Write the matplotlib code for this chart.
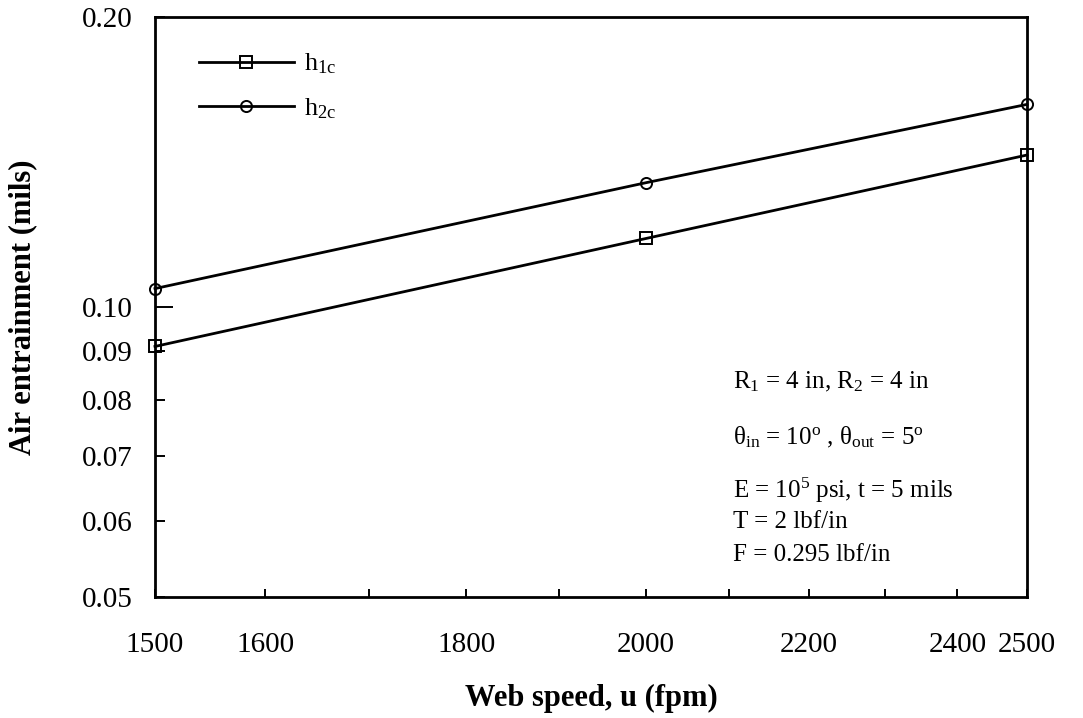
import matplotlib
matplotlib.use("Agg")
import matplotlib.pyplot as plt
from matplotlib.ticker import FixedLocator, FixedFormatter, NullLocator

# Web speed (fpm) and air entrainment heights (mils)
web_speed = [1500, 2000, 2500]
h1c = [0.0910, 0.1178, 0.1438]
h2c = [0.1045, 0.1346, 0.1623]

x_ticks = [1500, 1600, 1700, 1800, 1900, 2000, 2100, 2200, 2300, 2400, 2500]
x_tick_labels = ["1500", "1600", "", "1800", "", "2000", "", "2200", "", "2400", "2500"]
y_ticks = [0.05, 0.06, 0.07, 0.08, 0.09, 0.10, 0.20]
y_tick_labels = ["0.05", "0.06", "0.07", "0.08", "0.09", "0.10", "0.20"]

series_labels = [r"h$_{\rm 1c}$", r"h$_{\rm 2c}$"]
note_lines = [
    r"R$_1$ = 4 in, R$_2$ = 4 in",
    r"θ$_{\rm in}$ = 10$^{\rm o}$ , θ$_{\rm out}$ = 5$^{\rm o}$",
    r"E = 10$^5$ psi, t = 5 mils",
    "T = 2 lbf/in",
    "F = 0.295 lbf/in",
]

plt.rcParams["font.family"] = ["Liberation Serif", "DejaVu Serif"]
plt.rcParams["mathtext.fontset"] = "custom"
plt.rcParams["mathtext.rm"] = "Liberation Serif"
plt.rcParams["mathtext.it"] = "Liberation Serif:italic"
plt.rcParams["mathtext.bf"] = "Liberation Serif:bold"

fig = plt.figure(figsize=(10.83, 7.18), dpi=100)
ax = fig.add_axes([155 / 1083, 1 - 597 / 718, 872 / 1083, 580 / 718])

ax.plot(web_speed, h1c, color="black", lw=2.0, marker="s", ms=8,
        mfc="none", mec="black", mew=1.4, clip_on=False, label=series_labels[0])
ax.plot(web_speed, h2c, color="black", lw=2.0, marker="o", ms=8,
        mfc="none", mec="black", mew=1.4, clip_on=False, label=series_labels[1])

ax.set_xscale("log")
ax.set_yscale("log")
ax.set_xlim(1500, 2500)
ax.set_ylim(0.05, 0.20)

ax.xaxis.set_major_locator(FixedLocator(x_ticks))
ax.xaxis.set_major_formatter(FixedFormatter(x_tick_labels))
ax.xaxis.set_minor_locator(NullLocator())
ax.yaxis.set_major_locator(FixedLocator(y_ticks))
ax.yaxis.set_major_formatter(FixedFormatter(y_tick_labels))
ax.yaxis.set_minor_locator(NullLocator())

ax.tick_params(axis="x", direction="in", length=6, width=1.4, labelsize=21, pad=25,
               top=False)
ax.tick_params(axis="y", direction="in", length=7, width=1.4, labelsize=21, pad=16,
               right=False)
# the 0.10 decade tick is drawn longer than the others
for tick, val in zip(ax.yaxis.get_major_ticks(), y_ticks):
    if abs(val - 0.10) < 1e-9:
        tick.tick1line.set_markersize(13)

for sp in ax.spines.values():
    sp.set_linewidth(2.0)

ax.set_xlabel("Web speed, u (fpm)", fontsize=22, fontweight="bold")
ax.xaxis.set_label_coords(0.5, -0.15)
ax.xaxis.label.set_va("top")
ax.set_ylabel("Air entrainment (mils)", fontsize=22, fontweight="bold")
ax.yaxis.set_label_coords(-0.135, 0.5)

leg = ax.legend(loc="upper left", bbox_to_anchor=(0.05, 0.94), frameon=False,
                fontsize=19, handlelength=3.6, handletextpad=0.4,
                labelspacing=0.75, borderpad=0, borderaxespad=0)

note_y = [382, 437, 490, 522, 555]
for txt, py in zip(note_lines, note_y):
    fig.text(733 / 1083, 1 - py / 718, txt, fontsize=18, ha="left", va="center")

fig.savefig("out.png", dpi=100, facecolor="white")
